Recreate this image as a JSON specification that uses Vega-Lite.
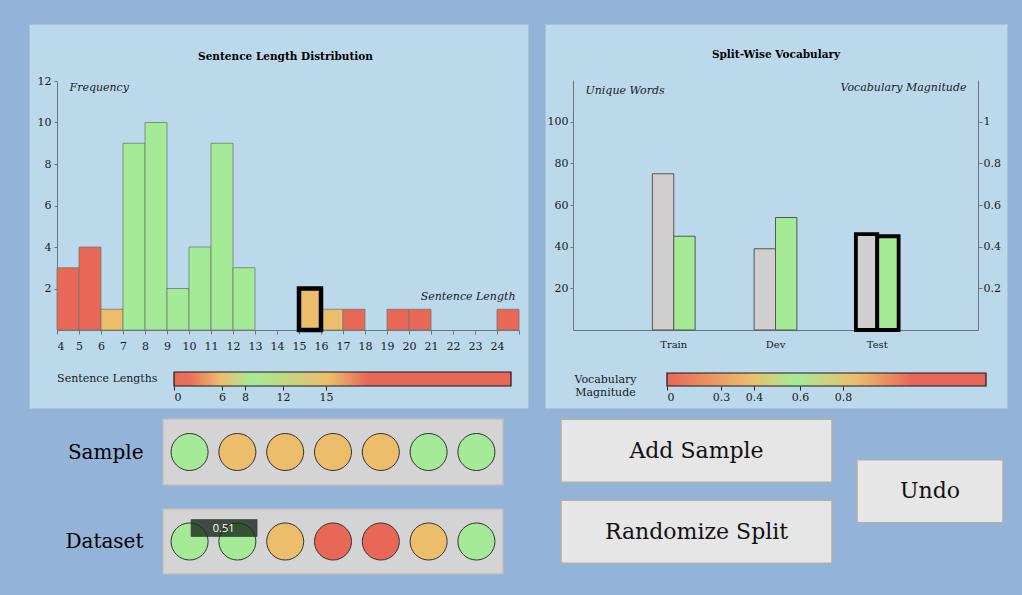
{
  "$schema": "https://vega.github.io/schema/vega-lite/v6.json",
  "background": "#94b3d8",
  "padding": {"left": 28, "top": 23, "right": 15, "bottom": 21},
  "config": {
    "font": "DejaVu Serif",
    "view": {"stroke": null},
    "axis": {"labelFont": "DejaVu Serif", "titleFont": "DejaVu Serif", "labelColor": "#1a1a1a", "titleColor": "#1a1a1a", "grid": false, "minExtent": 0, "domainColor": "#6b7580", "tickColor": "#6b7580", "labelFontSize": 11, "titleFontSize": 11},
    "axisY": {"minExtent": 0},
    "title": {"font": "DejaVu Serif", "fontSize": 10.5, "fontWeight": "bold", "color": "#000", "anchor": "middle"}
  },
  "datasets": {
    "lengths": [
      {"start": 4, "end": 5, "count": 3, "fit": "poor"},
      {"start": 5, "end": 6, "count": 4, "fit": "poor"},
      {"start": 6, "end": 7, "count": 1, "fit": "fair"},
      {"start": 7, "end": 8, "count": 9, "fit": "good"},
      {"start": 8, "end": 9, "count": 10, "fit": "good"},
      {"start": 9, "end": 10, "count": 2, "fit": "good"},
      {"start": 10, "end": 11, "count": 4, "fit": "good"},
      {"start": 11, "end": 12, "count": 9, "fit": "good"},
      {"start": 12, "end": 13, "count": 3, "fit": "good"},
      {"start": 16, "end": 17, "count": 1, "fit": "fair"},
      {"start": 17, "end": 18, "count": 1, "fit": "poor"},
      {"start": 19, "end": 20, "count": 1, "fit": "poor"},
      {"start": 20, "end": 21, "count": 1, "fit": "poor"},
      {"start": 24, "end": 25, "count": 1, "fit": "poor"},
      {"start": 15, "end": 16, "count": 2, "fit": "fair"}
    ],
    "vocab": [
      {"split": "Train", "words": 75, "magnitude": 0.45},
      {"split": "Dev", "words": 39, "magnitude": 0.54},
      {"split": "Test", "words": 46, "magnitude": 0.45}
    ],
    "sample": [
      {"set": "Sample", "i": 1, "fit": "good"},
      {"set": "Sample", "i": 2, "fit": "fair"},
      {"set": "Sample", "i": 3, "fit": "fair"},
      {"set": "Sample", "i": 4, "fit": "fair"},
      {"set": "Sample", "i": 5, "fit": "fair"},
      {"set": "Sample", "i": 6, "fit": "good"},
      {"set": "Sample", "i": 7, "fit": "good"}
    ],
    "dataset": [
      {"set": "Dataset", "i": 1, "fit": "good"},
      {"set": "Dataset", "i": 2, "fit": "good"},
      {"set": "Dataset", "i": 3, "fit": "fair"},
      {"set": "Dataset", "i": 4, "fit": "poor"},
      {"set": "Dataset", "i": 5, "fit": "poor"},
      {"set": "Dataset", "i": 6, "fit": "fair"},
      {"set": "Dataset", "i": 7, "fit": "good"}
    ],
    "hover": [{"set": "Dataset", "i": 1, "label": "0.51"}]
  },
  "spacing": 9,
  "vconcat": [
    {
      "spacing": 15,
      "hconcat": [
        {
          "width": 499, "height": 384,
          "view": {"fill": "#bcd9ec", "stroke": "#a9c2d8", "strokeWidth": 1},
          "title": {"text": "Sentence Length Distribution", "offset": -38, "dx": 7},
          "layer": [
            {
              "data": {"name": "lengths"},
              "mark": {"type": "bar"},
              "encoding": {
                "x": {"field": "start", "type": "quantitative",
                  "scale": {"domain": [4, 25], "range": [28, 490], "nice": false, "zero": false},
                  "axis": {"orient": "bottom", "offset": -78, "values": [4,5,6,7,8,9,10,11,12,13,14,15,16,17,18,19,20,21,22,23,24,25],
                    "labelExpr": "datum.value == 25 ? '' : datum.label", "tickSize": 4, "labelPadding": 6,
                    "title": "Sentence Length", "titleFontStyle": "italic", "titleFontWeight": "normal", "titleAlign": "right", "titleBaseline": "middle", "titleX": 486, "titleY": -34}},
                "x2": {"field": "end"},
                "y": {"field": "count", "type": "quantitative",
                  "scale": {"domain": [0, 12], "range": [306, 57], "nice": false},
                  "axis": {"orient": "left", "offset": -28, "values": [2,4,6,8,10,12], "tickSize": 3, "labelPadding": 3,
                    "title": "Frequency", "titleAngle": 0, "titleAlign": "left", "titleBaseline": "middle", "titleX": 12, "titleY": 63, "titleFontStyle": "italic", "titleFontWeight": "normal"}},
                "y2": {"datum": 0},
                "color": {"field": "fit", "type": "nominal", "scale": {"domain": ["poor", "fair", "good"], "range": ["#e86757", "#ecbe6c", "#a5eb97"]}, "legend": null},
                "stroke": {"condition": {"test": "datum.start === 15", "value": "#000"}, "value": "#6f7b70"},
                "strokeWidth": {"condition": {"test": "datum.start === 15", "value": 4.5}, "value": 0.8},
                "opacity": {"value": 1}
              }
            },
            {
              "data": {"values": [{"name": "Sentence Lengths", "lo": 0, "hi": 40}]},
              "mark": {"type": "rect", "stroke": "#1a1a1a", "strokeWidth": 1.2,
                "fill": {"gradient": "linear", "x1": 0, "x2": 1, "y1": 0, "y2": 0, "stops": [
                  {"offset": 0, "color": "#e86757"},
                  {"offset": 0.05, "color": "#e9735c"},
                  {"offset": 0.14, "color": "#ecbe6c"},
                  {"offset": 0.23, "color": "#a5eb97"},
                  {"offset": 0.27, "color": "#b0e28e"},
                  {"offset": 0.46, "color": "#ecbe6c"},
                  {"offset": 0.575, "color": "#e86757"},
                  {"offset": 1, "color": "#e86757"}
                ]}},
              "encoding": {
                "x": {"field": "lo", "type": "quantitative",
                  "scale": {"domain": [0, 6, 8, 12, 15, 40], "range": [145, 193, 216, 254, 297, 482], "nice": false, "zero": false},
                  "axis": {"orient": "bottom", "offset": -22, "values": [0, 6, 8, 12, 15], "title": null, "domain": false, "tickSize": 4, "tickColor": "#222", "labelPadding": 1}},
                "x2": {"field": "hi"},
                "y": {"field": "name", "type": "nominal",
                  "scale": {"range": [348, 362], "paddingInner": 0, "paddingOuter": 0},
                  "axis": {"orient": "left", "offset": -145, "title": null, "domain": false, "ticks": false, "tickSize": 0, "labelPadding": 17}}
              }
            }
          ],
          "resolve": {"scale": {"x": "independent", "y": "independent"}, "axis": {"x": "independent", "y": "independent"}}
        },
        {
          "width": 462, "height": 384,
          "view": {"fill": "#bcd9ec", "stroke": "#a9c2d8", "strokeWidth": 1},
          "title": {"text": "Split-Wise Vocabulary", "offset": -36},
          "layer": [
            {
              "data": {"name": "vocab"},
              "mark": {"type": "bar", "color": "#d0cecf"},
              "encoding": {
                "x": {"field": "split", "type": "nominal", "sort": ["Train", "Dev", "Test"],
                  "scale": {"range": [28, 433], "paddingInner": 0.58, "paddingOuter": 0.78},
                  "axis": {"orient": "bottom", "offset": -78, "title": null, "ticks": false, "tickSize": 0, "labelPadding": 9, "labelFontSize": 10, "labelAngle": 0}},
                "xOffset": {"datum": "words", "type": "nominal", "scale": {"domain": ["words", "mag"], "paddingInner": 0}},
                "y": {"field": "words", "type": "quantitative",
                  "scale": {"domain": [0, 120], "range": [306, 56], "nice": false},
                  "axis": {"orient": "left", "offset": -28, "values": [20, 40, 60, 80, 100], "tickSize": 3, "labelPadding": 2,
                    "title": "Unique Words", "titleAngle": 0, "titleAlign": "left", "titleBaseline": "middle", "titleX": 12, "titleY": 66, "titleFontStyle": "italic", "titleFontWeight": "normal"}},
                "stroke": {"condition": {"test": "datum.split === 'Test'", "value": "#000"}, "value": "#555"},
                "strokeWidth": {"condition": {"test": "datum.split === 'Test'", "value": 3.8}, "value": 1}
              }
            },
            {
              "data": {"name": "vocab"},
              "mark": {"type": "bar", "color": "#a5eb97"},
              "encoding": {
                "x": {"field": "split", "type": "nominal", "sort": ["Train", "Dev", "Test"],
                  "scale": {"range": [28, 433], "paddingInner": 0.58, "paddingOuter": 0.78}, "axis": null},
                "xOffset": {"datum": "mag", "type": "nominal", "scale": {"domain": ["words", "mag"], "paddingInner": 0}},
                "y": {"field": "magnitude", "type": "quantitative",
                  "scale": {"domain": [0, 1.2], "range": [306, 56], "nice": false},
                  "axis": {"orient": "right", "offset": -29, "values": [0.2, 0.4, 0.6, 0.8, 1], "format": "~g", "tickSize": 4, "labelPadding": 1,
                    "title": "Vocabulary Magnitude", "titleAngle": 0, "titleAlign": "right", "titleBaseline": "middle", "titleX": -12, "titleY": 63, "titleFontStyle": "italic", "titleFontWeight": "normal"}},
                "stroke": {"condition": {"test": "datum.split === 'Test'", "value": "#000"}, "value": "#555"},
                "strokeWidth": {"condition": {"test": "datum.split === 'Test'", "value": 3.8}, "value": 1}
              }
            },
            {
              "data": {"values": [{"name": "Vocabulary Magnitude", "lo": 0, "hi": 1.4}]},
              "mark": {"type": "rect", "stroke": "#1a1a1a", "strokeWidth": 1.2,
                "fill": {"gradient": "linear", "x1": 0, "x2": 1, "y1": 0, "y2": 0, "stops": [
                  {"offset": 0, "color": "#e86757"},
                  {"offset": 0.26, "color": "#ecbe6c"},
                  {"offset": 0.40, "color": "#a5eb97"},
                  {"offset": 0.59, "color": "#ecbe6c"},
                  {"offset": 0.77, "color": "#e86757"},
                  {"offset": 1, "color": "#e86757"}
                ]}},
              "encoding": {
                "x": {"field": "lo", "type": "quantitative",
                  "scale": {"domain": [0, 0.3, 0.4, 0.6, 0.8, 1.4], "range": [122, 176, 209, 255, 298, 441], "nice": false, "zero": false},
                  "axis": {"orient": "bottom", "offset": -22, "values": [0, 0.3, 0.4, 0.6, 0.8], "format": "~g", "title": null, "domain": false, "tickSize": 4, "tickColor": "#222", "labelPadding": 1}},
                "x2": {"field": "hi"},
                "y": {"field": "name", "type": "nominal",
                  "scale": {"range": [349, 362], "paddingInner": 0, "paddingOuter": 0},
                  "axis": {"orient": "left", "offset": -122, "title": null, "domain": false, "ticks": false, "tickSize": 0, "labelPadding": 62,
                    "labelAlign": "center", "labelExpr": "split(datum.label, ' ')", "labelLineHeight": 13}}
              }
            }
          ],
          "resolve": {"scale": {"x": "independent", "y": "independent"}, "axis": {"x": "independent", "y": "independent"}}
        }
      ]
    },
    {
      "spacing": 19,
      "hconcat": [
        {
          "spacing": 24,
          "vconcat": [
            {
              "width": 100, "height": 66,
              "data": {"values": [{"set": "Sample"}]},
              "mark": {"type": "point", "opacity": 0},
              "encoding": {
                "y": {"field": "set", "type": "nominal", "axis": {"orient": "right", "title": null, "domain": false, "ticks": false, "tickSize": 0, "labelAlign": "right", "labelPadding": 14, "labelFontSize": 20, "labelColor": "#000"}}
              }
            },
            {
              "width": 100, "height": 65,
              "data": {"values": [{"set": "Dataset"}]},
              "mark": {"type": "point", "opacity": 0},
              "encoding": {
                "y": {"field": "set", "type": "nominal", "axis": {"orient": "right", "title": null, "domain": false, "ticks": false, "tickSize": 0, "labelAlign": "right", "labelPadding": 14, "labelFontSize": 20, "labelColor": "#000"}}
              }
            }
          ]
        },
        {
          "spacing": 56,
          "hconcat": [
            {
              "spacing": 22,
              "vconcat": [
                {
                  "width": 340, "height": 66,
                  "view": {"fill": "#d4d4d4", "stroke": "#bdbdbd", "strokeWidth": 1.5},
                  "data": {"name": "sample"},
                  "mark": {"type": "circle", "size": 1370, "stroke": "#333", "strokeWidth": 1, "opacity": 1},
                  "encoding": {
                    "x": {"field": "i", "type": "ordinal", "scale": {"type": "point", "padding": 0.556}, "axis": null},
                    "y": {"field": "set", "type": "nominal", "axis": null},
                    "color": {"field": "fit", "type": "nominal", "scale": {"domain": ["poor", "fair", "good"], "range": ["#e86757", "#ecbe6c", "#a5eb97"]}, "legend": null}
                  }
                },
                {
                  "width": 340, "height": 65,
                  "view": {"fill": "#d4d4d4", "stroke": "#bdbdbd", "strokeWidth": 1.5},
                  "layer": [
                    {
                      "data": {"name": "dataset"},
                      "mark": {"type": "circle", "size": 1370, "stroke": "#333", "strokeWidth": 1, "opacity": 1},
                      "encoding": {
                        "x": {"field": "i", "type": "ordinal", "scale": {"type": "point", "padding": 0.556}, "axis": null},
                        "y": {"field": "set", "type": "nominal", "axis": null},
                        "color": {"field": "fit", "type": "nominal", "scale": {"domain": ["poor", "fair", "good"], "range": ["#e86757", "#ecbe6c", "#a5eb97"]}, "legend": null}
                      }
                    },
                    {
                      "data": {"name": "hover"},
                      "mark": {"type": "point", "shape": "M0.03,-0.44H1.35V-0.1H0.03Z", "size": 10000, "filled": true, "color": "#1b2a1a", "opacity": 0.8, "stroke": "#111", "strokeWidth": 0.6},
                      "encoding": {
                        "x": {"field": "i", "type": "ordinal"},
                        "y": {"field": "set", "type": "nominal"}
                      }
                    },
                    {
                      "data": {"name": "hover"},
                      "mark": {"type": "text", "dx": 34, "dy": -13, "color": "#ffffff", "font": "Open Sans", "fontSize": 11},
                      "encoding": {
                        "x": {"field": "i", "type": "ordinal"},
                        "y": {"field": "set", "type": "nominal"},
                        "text": {"field": "label"}
                      }
                    }
                  ]
                }
              ]
            },
            {
              "spacing": 23,
              "center": true,
              "hconcat": [
                {
                  "spacing": 16,
                  "vconcat": [
                    {
                      "width": 271, "height": 63,
                      "view": {"fill": "#e6e6e6", "stroke": "#b0b0b0", "strokeWidth": 1.5},
                      "data": {"values": [{"label": "Add Sample"}]},
                      "mark": {"type": "text", "fontSize": 22, "font": "DejaVu Serif", "color": "#111"},
                      "encoding": {"text": {"field": "label"}}
                    },
                    {
                      "width": 271, "height": 63,
                      "view": {"fill": "#e6e6e6", "stroke": "#b0b0b0", "strokeWidth": 1.5},
                      "data": {"values": [{"label": "Randomize Split"}]},
                      "mark": {"type": "text", "fontSize": 22, "font": "DejaVu Serif", "color": "#111"},
                      "encoding": {"text": {"field": "label"}}
                    }
                  ]
                },
                {
                  "width": 146, "height": 63,
                  "view": {"fill": "#e6e6e6", "stroke": "#b0b0b0", "strokeWidth": 1.5},
                  "data": {"values": [{"label": "Undo"}]},
                  "mark": {"type": "text", "fontSize": 22, "font": "DejaVu Serif", "color": "#111"},
                  "encoding": {"text": {"field": "label"}}
                }
              ]
            }
          ]
        }
      ]
    }
  ]
}
